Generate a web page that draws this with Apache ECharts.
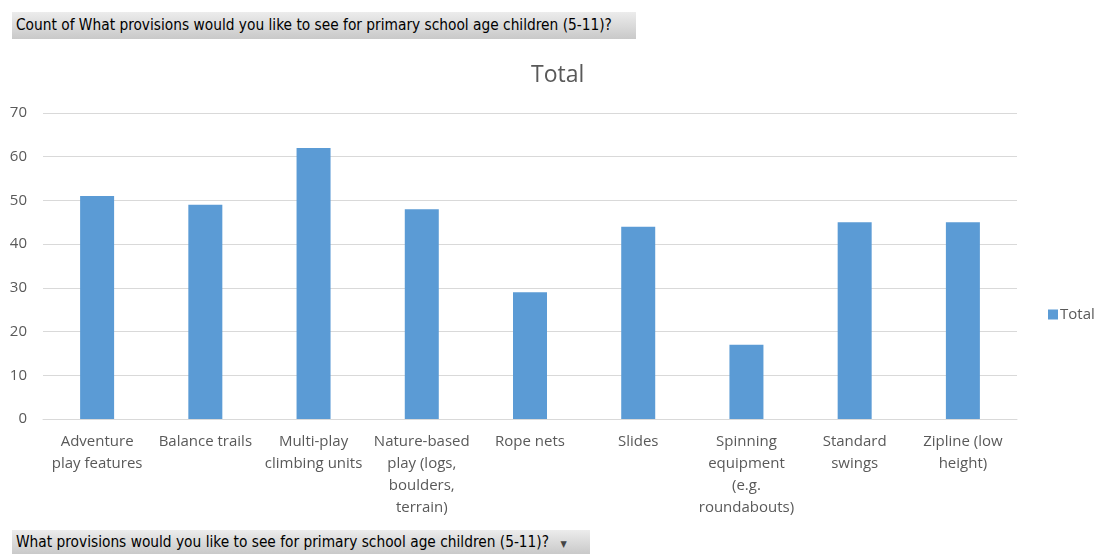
<!DOCTYPE html>
<html>
<head>
<meta charset="utf-8">
<script src="https://cdn.jsdelivr.net/npm/echarts@6/dist/echarts.min.js"></script>
<style>
  html, body { margin: 0; padding: 0; background: #fff; }
  #chart { width: 1099px; height: 554px; position: absolute; left: 0; top: 0; }
  .hdr { position: absolute; font-family: "DejaVu Sans Condensed", "DejaVu Sans", sans-serif; font-size: 15.3px; color: #000;
         background: linear-gradient(#ececec, #c9c9c9); white-space: nowrap; box-sizing: border-box; padding-left: 4px; }
</style>
</head>
<body>
<div id="chart"></div>
<div class="hdr" style="left:12px;top:12px;width:624px;height:27px;line-height:27px;">Count of What provisions would you like to see for primary school age children (5-11)?</div>
<div class="hdr" style="left:12px;top:530px;width:578px;height:24px;line-height:24px;">What provisions would you like to see for primary school age children (5-11)? <span style="font-size:9px;color:#444;margin-left:7px;">&#9660;</span></div>
<script>
const categories = [
  "Adventure\nplay features",
  "Balance trails",
  "Multi-play\nclimbing units",
  "Nature-based\nplay (logs,\nboulders,\nterrain)",
  "Rope nets",
  "Slides",
  "Spinning\nequipment\n(e.g.\nroundabouts)",
  "Standard\nswings",
  "Zipline (low\nheight)"
];
const totals = [51, 49, 62, 48, 29, 44, 17, 45, 45];
const yTicks = { min: 0, max: 70, interval: 10 };
const seriesName = "Total";

const chart = echarts.init(document.getElementById('chart'));
const font = '"Open Sans", "Noto Sans", sans-serif';
chart.setOption({
  animation: false,
  title: {
    text: seriesName, left: 526, top: 59,
    textStyle: { fontFamily: font, fontSize: 23, fontWeight: 'normal', color: '#595959' }
  },
  legend: {
    top: 302, left: 1043, orient: 'vertical',
    itemWidth: 10, itemHeight: 10, itemGap: 4,
    icon: 'rect',
    textStyle: { fontFamily: font, fontSize: 15, color: '#595959', padding: [0, 0, 0, -3] },
    data: [seriesName]
  },
  grid: { left: 43, right: 82, top: 113, bottom: 135, containLabel: false },
  xAxis: {
    type: 'category', data: categories,
    axisLine: { lineStyle: { color: '#d9d9d9', width: 1 } },
    axisTick: { show: false },
    axisLabel: { interval: 0, color: '#595959', fontFamily: font, fontSize: 15, lineHeight: 22, margin: 12 }
  },
  yAxis: {
    type: 'value', min: yTicks.min, max: yTicks.max, interval: yTicks.interval,
    axisLine: { show: false }, axisTick: { show: false },
    splitLine: { lineStyle: { color: '#d9d9d9', width: 1 } },
    axisLabel: { color: '#595959', fontFamily: font, fontSize: 15, margin: 16 }
  },
  series: [{
    name: seriesName, type: 'bar', data: totals, barWidth: 34,
    itemStyle: { color: '#5b9bd5' }
  }]
});
</script>
</body>
</html>
